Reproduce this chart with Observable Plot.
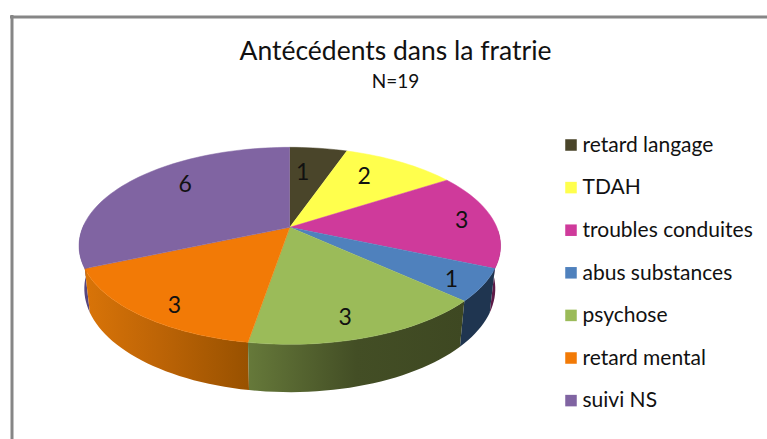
<!DOCTYPE html>
<html><head><meta charset="utf-8">
<script src="https://cdn.jsdelivr.net/npm/d3@7"></script>
<script src="https://cdn.jsdelivr.net/npm/@observablehq/plot@0.6"></script>
<style>html,body{margin:0;padding:0;background:#fff;overflow:hidden}svg{display:block}</style>
</head><body><div id="chart"></div>
<script>
// Data
const categories = ["retard langage","TDAH","troubles conduites","abus substances","psychose","retard mental","suivi NS"];
const values = [1,2,3,1,3,3,6];
const topColors = ["#4a452a","#ffff4d","#cf3a9b","#4f81bd","#9bbb59","#f27a06","#8064a2"];
const title = "Antécédents dans la fratrie";
const subtitle = "N=19";

// Layout of the tilted pie (unit circle mapped through the x / y scales)
const W = 767, H = 439, cx = 289.3, cy = 226.8, Rx = 207, Ry = 95, persp = 0.188;
const wallDx = 0.975, wallDy = 1.05, wallDrop = 42 / Ry;
const labelNudge = [[-7,0],[-1,-6],[39,-2],[41,16],[6,24],[-24,24],[1,-11]];
const wallStyle = [null,null,"#5d1a47","#1f3550","url(#wallGreen)","url(#wallOrange)","#57467f"];
const wallOrder = [2,6,3,5,4];

const px = v => (v - cx) / Rx, py = v => (v - cy) / Ry;
const project = (deg, rho = 1) => {
  const t = deg * Math.PI / 180, X = rho * Math.sin(t), Y = -rho * Math.cos(t), w = 1 - persp * Y;
  return {x: X / w, y: Y / w};
};
const total = d3.sum(values);
const cum = d3.cumsum(values);
const slices = values.map((v, i) => ({i, a0: (cum[i] - v) / total * 360, a1: cum[i] / total * 360}));
const arc = (a0, a1) => { const n = Math.max(2, Math.ceil((a1 - a0) / 2)); return d3.range(n + 1).map(j => a0 + (a1 - a0) * j / n); };

const topPts = s => [{x: 0, y: 0}, ...arc(s.a0, s.a1).map(a => project(a))];
const wallPts = s => {
  const a0 = s.i === 2 ? Math.max(s.a0, 92) : s.a0, a1 = s.i === 6 ? Math.min(s.a1, 272) : s.a1;
  const as = arc(a0, a1);
  return [...as.map(a => project(a)),
          ...as.slice().reverse().map(a => { const p = project(a); return {x: p.x * wallDx, y: p.y * wallDy + wallDrop}; })];
};
const defs = () => {
  const d = d3.create("svg:defs");
  const grad = (id, stops) => {
    const g = d.append("linearGradient").attr("id", id).attr("x1", 0).attr("x2", 1).attr("y1", 0).attr("y2", 0);
    stops.forEach(([o, c]) => g.append("stop").attr("offset", o).attr("stop-color", c));
  };
  grad("wallGreen", [[0,"#66793a"],[0.5,"#434e25"],[1,"#3e4822"]]);
  grad("wallOrange", [[0,"#d97408"],[0.45,"#bd6406"],[1,"#985100"]]);
  return d.node();
};
const legendRows = categories.map((c, i) => ({c, color: topColors[i], i}));
const legendY = i => py(144.5 + i * 42.6);
const font = "Lato, 'Liberation Sans', sans-serif";

const plot = Plot.plot({
  width: W, height: H, margin: 0,
  x: {domain: [-1, 1], range: [cx - Rx, cx + Rx], axis: null},
  y: {domain: [-1, 1], range: [cy - Ry, cy + Ry], axis: null},
  style: {background: "#fff"},
  marks: [
    defs,
    Plot.ruleX([px(11.5)], {y1: py(15), y2: py(H), stroke: "#868686", strokeWidth: 3}),
    Plot.ruleY([py(16.5)], {x1: px(10), x2: px(W), stroke: "#868686", strokeWidth: 3}),
    ...wallOrder.map(i => Plot.line(wallPts(slices[i]), {x: "x", y: "y", fill: wallStyle[i], stroke: "none", curve: "linear"})),
    ...slices.map(s => Plot.line(topPts(s), {x: "x", y: "y", fill: topColors[s.i], stroke: topColors[s.i], strokeWidth: 0.5, curve: "linear"})),
    Plot.text(slices, {
      x: s => project((s.a0 + s.a1) / 2, 0.65).x + labelNudge[s.i][0] / Rx,
      y: s => project((s.a0 + s.a1) / 2, 0.65).y + labelNudge[s.i][1] / Ry,
      text: s => String(values[s.i]), fontSize: 23, fontFamily: font, fill: "#111"
    }),
    Plot.text([title], {x: px(395), y: py(51), text: d => d, fontSize: 26.5, fontFamily: font, fill: "#111"}),
    Plot.text([subtitle], {x: px(395), y: py(81), text: d => d, fontSize: 19, fontFamily: font, fill: "#111"}),
    Plot.dot(legendRows, {x: px(570.5), y: d => legendY(d.i), r: 6.5, symbol: "square", fill: "color", stroke: "none"}),
    Plot.text(legendRows, {x: px(582), y: d => legendY(d.i), text: "c", textAnchor: "start", fontSize: 21, fontFamily: font, fill: "#111"})
  ],
  color: {type: "identity"}
});
document.getElementById("chart").append(plot);
</script></body></html>
